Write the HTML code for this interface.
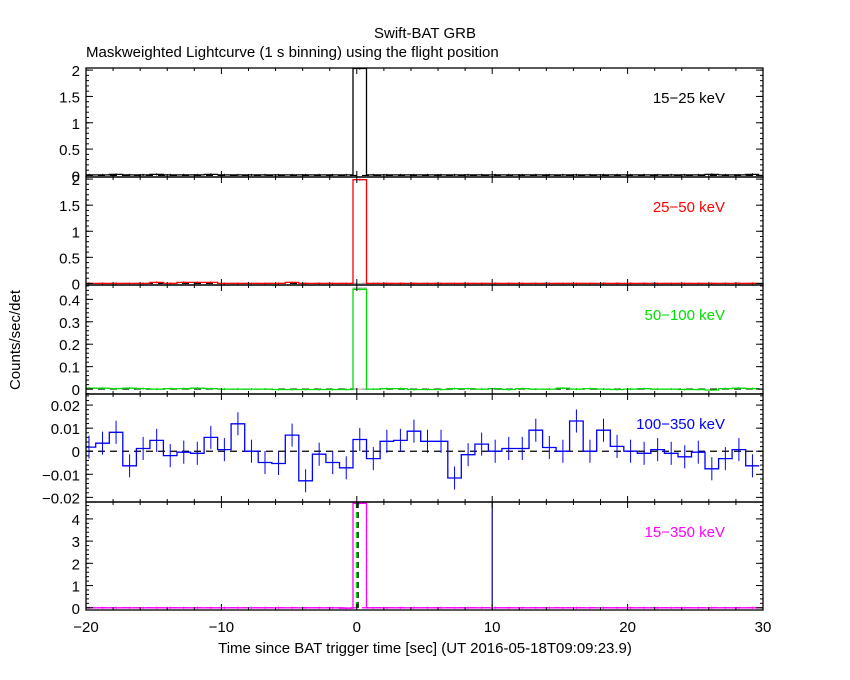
<!DOCTYPE html>
<html><head><meta charset="utf-8"><style>
html,body{margin:0;padding:0;background:#fff;}
svg{display:block;font-family:"Liberation Sans",sans-serif;}
</style></head><body>
<svg id="chart" width="850" height="680" viewBox="0 0 850 680">
<text x="425" y="38" text-anchor="middle" font-size="15">Swift-BAT GRB</text>
<text x="86" y="57" font-size="15">Maskweighted Lightcurve (1 s binning) using the flight position</text>
<text x="20" y="340" font-size="15" text-anchor="middle" transform="rotate(-90 20 340)">Counts/sec/det</text>
<text x="425" y="653" font-size="15" text-anchor="middle">Time since BAT trigger time [sec] (UT 2016-05-18T09:09:23.9)</text>
<g id="plots"></g>
</svg>
<script>
// ---- data ----
const xTicks = [-20, -10, 0, 10, 20, 30];
const binStart = -20.28;
const s1 = [0.01,0.01,0.02,0.01,0.01,0.02,0.01,0.01,0.01,0.02,0.01,0.01,0.01,0.01,0.01,0.01,0.01,0.01,0.01,0.01,2.03,0.01,0.01,0.01,0.01,0.01,0.01,0.01,0.01,0.01,0.01,0.01,0.01,0.01,0.01,0.01,0.01,0.01,0.01,0.01,0.01,0.01,0.01,0.01,0.01,0.01,0.02,0.01,0.01,0.02];
const s2 = [0,0,0,0,0,0.02,0,0.02,0.02,0.02,0,0,0,0,0,0.02,0,0,0,0,1.99,0,0,0,0,0,0,0,0,0,0,0,0,0,0,0,0,0,0,0,0,0,0,0,0,0,0,0,0,0];
const s3 = [0.004,0.004,0.002,0.004,0.002,0,0.002,0.002,0.004,0.002,0,0,0,0,-0.002,-0.002,-0.002,-0.002,-0.002,-0.002,0.445,0,0.002,0.002,-0.002,-0.002,-0.002,0.002,0.002,0,0.002,-0.002,0.002,0,0,0.004,0,0.002,0,-0.002,0,0.002,0,0,-0.002,-0.002,-0.004,0.002,0.004,0.002];
const s4 = [0.0018,0.0035,0.0082,-0.0063,0.0012,0.0047,-0.0019,-0.0004,-0.0009,0.006,0.0007,0.0119,0,-0.0049,-0.0053,0.007,-0.0128,-0.0013,-0.0049,-0.0072,0.0051,-0.0032,0.0043,0.0047,0.0087,0.0043,0.0043,-0.0116,-0.0015,0.0031,0,0.0012,0.0012,0.0091,0.0016,0,0.0131,0,0.0091,0.0021,0,-0.0009,0.0007,-0.0009,-0.0024,-0.0004,-0.0076,-0.0032,0.0007,-0.0063];
const e4 = 0.005;
const s5 = [0,0,0,0,0,0,0,0,0,0,0,0,0,0,0,0,0,0,0,-0.02,4.7,0,0,0,0,0,0,0,0,0,0,0,0,0,0,0,0,0,0,0,0,0,0,0,0,0,0,0,0,0];
const p1Ticks = [0,0.5,1,1.5,2], p1Labels = ["0","0.5","1","1.5","2"];
const p3Ticks = [0,0.1,0.2,0.3,0.4], p3Labels = ["0","0.1","0.2","0.3","0.4"];
const p4Ticks = [-0.02,-0.01,0,0.01,0.02], p4Labels = ["−0.02","−0.01","0","0.01","0.02"];
const p5Ticks = [0,1,2,3,4], p5Labels = ["0","1","2","3","4"];
const bandLabels = ["15−25 keV","25−50 keV","50−100 keV","100−350 keV","15−350 keV"];
const bandColors = ["#000","#f00","#0d0","#00f","#f0f"];

const X0=86, X1=763;
const xs = t => X0 + (t+20)/50*(X1-X0);
const NS='http://www.w3.org/2000/svg';
const root=document.getElementById('plots');
function mk(tag, attrs, parent){const e=document.createElementNS(NS,tag);for(const k in attrs)e.setAttribute(k,attrs[k]);(parent||root).appendChild(e);return e;}

const panels=[
 {top:68,bot:177,min:-0.03,max:2.04,data:s1,ticks:p1Ticks,labels:p1Labels,minor:0.1},
 {top:177,bot:285,min:-0.03,max:2.04,data:s2,ticks:p1Ticks,labels:p1Labels,minor:0.1},
 {top:285,bot:394,min:-0.022,max:0.464,data:s3,ticks:p3Ticks,labels:p3Labels,minor:0.02},
 {top:394,bot:502,min:-0.022,max:0.0248,data:s4,ticks:p4Ticks,labels:p4Labels,minor:0.002},
 {top:502,bot:610,min:-0.1,max:4.76,data:s5,ticks:p5Ticks,labels:p5Labels,minor:0.2}
];

panels.forEach((p,i)=>{
  const g=mk('g',{});
  
  
  const ys=v=>p.bot-(v-p.min)/(p.max-p.min)*(p.bot-p.top);
  const clipId='clip'+i;
  const cp=mk('clipPath',{id:clipId},g);
  mk('rect',{x:X0,y:p.top,width:X1-X0,height:p.bot-p.top},cp);
  const dg=mk('g',{'clip-path':'url(#'+clipId+')'},g);
  const zl=mk('line',{x1:X0,x2:X1,y1:ys(0),y2:ys(0),stroke:i==4?'#f0f':'#000','stroke-width':1.2,'stroke-dasharray':'7,5'},dg);
  
  
  if(i==1||i==2){
    const gr=mk('rect',{x:xs(binStart+20),y:p.top+3,width:xs(binStart+21)-xs(binStart+20),height:ys(0)-p.top-3,fill:'none',stroke:'#aaa','stroke-width':1},dg);
    
    
  }
  let d='';
  p.data.forEach((v,k)=>{
    const xa=xs(binStart+k), xb=xs(binStart+k+1), y=ys(v);
    d+=(k==0?'M':'L')+xa.toFixed(1)+','+y.toFixed(1)+'L'+xb.toFixed(1)+','+y.toFixed(1);
  });
  const path=mk('path',{d:d,fill:'none',stroke:bandColors[i],'stroke-width':1.3},dg);
  
  
  const err=i==3?e4:(p.max-p.min)*0.01;
  p.data.forEach((v,k)=>{
    const xm=xs(binStart+k+0.5);
    const eb=mk('line',{x1:xm,x2:xm,y1:ys(v-err),y2:ys(v+err),stroke:bandColors[i],'stroke-width':1},dg);
    
    
  });
  if(i==4){
    const v1=mk('line',{x1:xs(0),x2:xs(0),y1:p.top,y2:p.bot,stroke:'#0d0','stroke-width':2,'stroke-dasharray':'6,4'},dg);
    
    
    const v2=mk('line',{x1:xs(0.1),x2:xs(0.1),y1:p.top,y2:p.bot,stroke:'#000','stroke-width':1.2,'stroke-dasharray':'6,4'},dg);
    
    
    const v3=mk('line',{x1:xs(10),x2:xs(10),y1:p.top,y2:p.bot,stroke:'#00008b','stroke-width':1.2},dg);
    
    
  }
  const fr=mk('rect',{x:X0,y:p.top,width:X1-X0,height:p.bot-p.top,fill:'none',stroke:'#000','stroke-width':1.3},g);
  
  
  for(let t=-20;t<=30;t+=2){
    const L=(t%10==0)?6:3;
    mk('line',{x1:xs(t),x2:xs(t),y1:p.bot,y2:p.bot-L,stroke:'#000','stroke-width':1},g);
    mk('line',{x1:xs(t),x2:xs(t),y1:p.top,y2:p.top+L,stroke:'#000','stroke-width':1},g);
  }
  const n0=Math.ceil(p.min/p.minor-1e-6), n1=Math.floor(p.max/p.minor+1e-6);
  for(let n=n0;n<=n1;n++){
    const y=ys(n*p.minor);
    mk('line',{x1:X0,x2:X0+3,y1:y,y2:y,stroke:'#000','stroke-width':1},g);
    mk('line',{x1:X1,x2:X1-3,y1:y,y2:y,stroke:'#000','stroke-width':1},g);
  }
  p.ticks.forEach((tv,k)=>{
    const y=ys(tv);
    mk('line',{x1:X0,x2:X0+7,y1:y,y2:y,stroke:'#000','stroke-width':1},g);
    mk('line',{x1:X1,x2:X1-7,y1:y,y2:y,stroke:'#000','stroke-width':1},g);
    const tl=mk('text',{x:X0-6,y:y+6,'text-anchor':'end','font-size':15},g);
    tl.textContent=p.labels[k];
    
    
  });
  const bl=mk('text',{x:725,y:p.top+35,'text-anchor':'end','font-size':15,fill:bandColors[i]},g);
  bl.textContent=bandLabels[i];
  
  
});
xTicks.forEach(t=>{
  const tl=mk('text',{x:xs(t),y:632,'text-anchor':'middle','font-size':15});
  tl.textContent=t<0?'−'+(-t):String(t);
  
  
});
</script>
</body></html>
